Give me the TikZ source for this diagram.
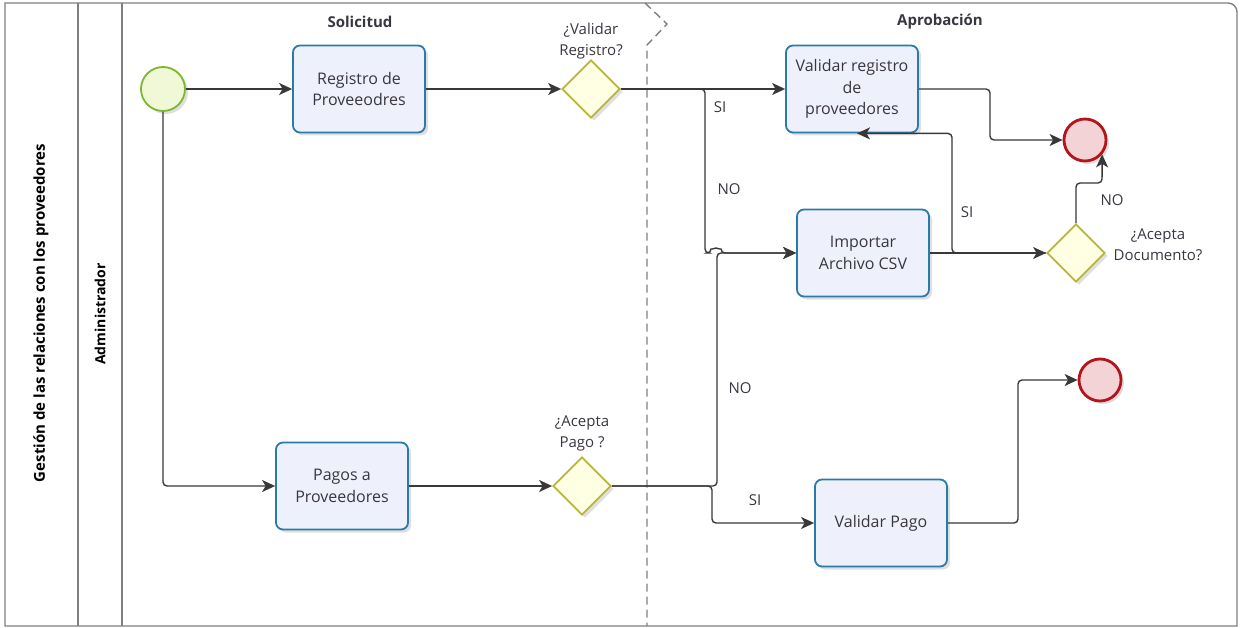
\documentclass[tikz,border=0pt]{standalone}
\usepackage{fontspec}
\setmainfont{Open Sans}
\usetikzlibrary{arrows.meta,shapes.geometric,shadows,positioning}

\definecolor{tasklc}{HTML}{2B7BA8}
\definecolor{taskfc}{HTML}{EEF1FB}
\definecolor{gwlc}{HTML}{B7B63A}
\definecolor{gwfc}{HTML}{FFFFE4}
\definecolor{startlc}{HTML}{7CB82F}
\definecolor{startfc}{HTML}{F0F8D8}
\definecolor{endlc}{HTML}{B3151B}
\definecolor{endfc}{HTML}{F3D3D5}
\definecolor{flowc}{HTML}{383838}
\definecolor{poolc}{HTML}{7F7F7F}
\definecolor{txtc}{HTML}{3A3640}

\tikzset{
  shade/.style={drop shadow={opacity=0.25,shadow xshift=3pt,shadow yshift=-3pt}},
  task/.style={draw=tasklc,fill=taskfc,line width=1.8pt,rounded corners=7pt,
    minimum width=132pt,minimum height=87pt,align=center,text=txtc,
    font=\fontsize{16}{21.5}\selectfont,shade},
  gateway/.style={diamond,draw=gwlc,fill=gwfc,line width=1.8pt,inner sep=0pt,
    minimum width=58pt,minimum height=58pt,shade},
  startev/.style={circle,draw=startlc,fill=startfc,line width=1.8pt,
    minimum size=44pt,inner sep=0pt,shade},
  endev/.style={circle,draw=endlc,fill=endfc,line width=2.8pt,
    minimum size=42pt,inner sep=0pt,shade},
  flow/.style={draw=flowc,line width=1.4pt,rounded corners=4pt,
    -{Stealth[length=13pt,width=12pt,inset=3.5pt]}},
  lbl/.style={text=txtc,font=\fontsize{15}{21}\selectfont,align=center},
  phase/.style={text=txtc,font=\fontsize{15}{18}\selectfont\bfseries},
}

\begin{document}
\begin{tikzpicture}[x=1pt,y=-1pt]
  \useasboundingbox (0,0) rectangle (1241,628);

  % pool and lane
  \draw[poolc,line width=1.4pt] (5,3) -- (1228,3) to[out=0,in=90] (1237,12) -- (1237,626) -- (5,626) -- cycle;
  \draw[poolc,line width=1.4pt] (78,3) -- (78,626);
  \draw[poolc,line width=1.4pt] (122,3) -- (122,626);
  \node[rotate=90,text=black,font=\fontsize{15}{18}\selectfont\bfseries] (pooltitle) at (41,313) {Gestión de las relaciones con los proveedores};
  \node[rotate=90,text=black,font=\fontsize{14}{17}\selectfont\bfseries] (lanetitle) at (100,314) {Administrador};

  % phases
  \draw[poolc,line width=1.4pt,dash pattern=on 8pt off 5pt] (645,3) -- (667,24) -- (647,45) -- (647,626);
  \node[phase] (solic) at (360,22) {Solicitud};
  \node[phase] (aprob) at (940,22) {Aprobación};

  % events, tasks and gateways
  \node[startev] (start) at (163,89) {};
  \node[task] (regprov) at (359,89) {Registro de\\Proveeodres};
  \node[gateway] (gwreg) at (591,89) {};
  \node[lbl,above=-4pt of gwreg.north] (gwreglbl) {¿Validar\\Registro?};
  \node[task] (valreg) at (852,89) {Validar registro\\de\\proveedores};
  \node[endev] (endreg) at (1085,140) {};
  \node[task] (impcsv) at (863,253) {Importar\\Archivo CSV};
  \node[gateway] (gwdoc) at (1076,253) {};
  \node[lbl] (gwdoclbl) at (1158,245) {¿Acepta\\Documento?};
  \node[task] (pagos) at (342,486) {Pagos a\\Proveedores};
  \node[gateway] (gwpago) at (582,486) {};
  \node[lbl,above=1pt of gwpago.north] (gwpagolbl) {¿Acepta\\Pago ?};
  \node[task] (valpago) at (881,523) {Validar Pago};
  \node[endev] (endpago) at (1100,380) {};

  % sequence flows
  \draw[flow] (start.east) -- (regprov.west);
  \draw[flow] (start.south) |- (pagos.west);
  \draw[flow] (regprov.east) -- (gwreg.west);
  \draw[flow] (gwreg.east) -- (valreg.west);
  \draw[flow] (gwreg.east) -| (705,253) -- (711,253)
    arc[start angle=180,end angle=0,radius=5pt] -- (impcsv.west);
  \draw[flow] (pagos.east) -- (gwpago.west);
  \draw[flow] (gwpago.east) -| (717,253) -- (impcsv.west);
  \draw[flow] (gwpago.east) -- (712,486) |- (valpago.west);
  \draw[flow] (valreg.east) -- (990,89) |- (endreg.west);
  \draw[flow] (impcsv.east) -- (gwdoc.west);
  \draw[flow] (gwdoc.west) -- (952,253) |- ([xshift=5pt]valreg.south);
  \draw[flow] (gwdoc.north) |- (1102,183) -- (endreg.-40);
  \draw[flow] (valpago.east) -- (1018,523) |- (endpago.west);

  % flow labels
  \node[lbl] (si1) at (720,107) {SI};
  \node[lbl] (no1) at (729,189) {NO};
  \node[lbl] (no2) at (740,388) {NO};
  \node[lbl] (si2) at (755,500) {SI};
  \node[lbl] (si3) at (967,212) {SI};
  \node[lbl] (no3) at (1112,200) {NO};
\end{tikzpicture}
\end{document}
